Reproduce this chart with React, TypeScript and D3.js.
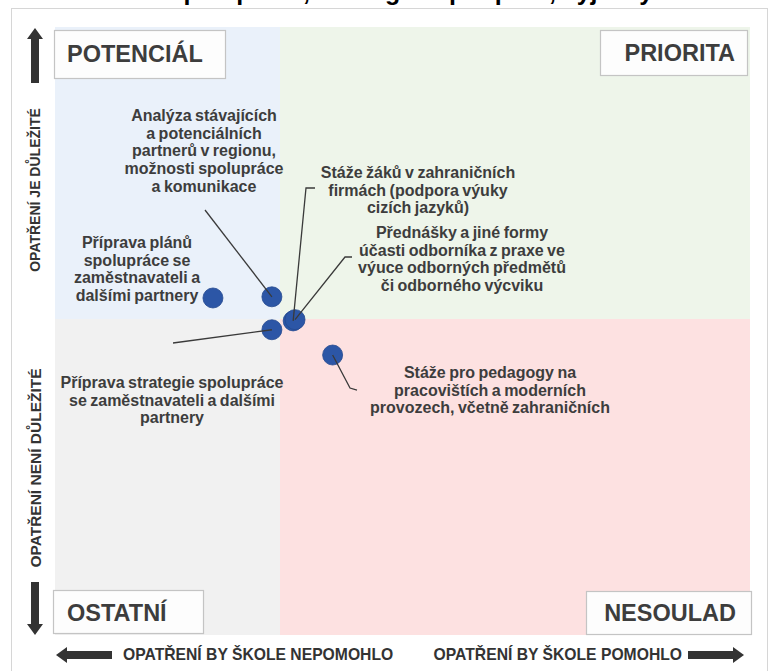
import React from 'react';
import * as d3 from 'd3';

const W = 777;
const H = 671;

// title is cut off at the top of the picture, only the descenders are visible
const title = 'Spolupráce, strategie a podpora, výjezdy';

const quadrantNames = ['POTENCIÁL', 'PRIORITA', 'OSTATNÍ', 'NESOULAD'];
const yAxisLabels = ['OPATŘENÍ JE DŮLEŽITÉ', 'OPATŘENÍ NENÍ DŮLEŽITÉ'];
const xAxisLabels = ['OPATŘENÍ BY ŠKOLE NEPOMOHLO', 'OPATŘENÍ BY ŠKOLE POMOHLO'];

// measures: x = would help the school, y = importance (50 = quadrant split)
const measureLines = [
    ['Příprava plánů', 'spolupráce se', 'zaměstnavateli a', 'dalšími partnery'],
    ['Analýza stávajících', 'a potenciálních', 'partnerů v regionu,', 'možnosti spolupráce', 'a komunikace'],
    ['Stáže žáků v zahraničních', 'firmách (podpora výuky', 'cizích jazyků)'],
    ['Přednášky a jiné formy', 'účasti odborníka z praxe ve', 'výuce odborných předmětů', 'či odborného výcviku'],
    ['Příprava strategie spolupráce', 'se zaměstnavateli a dalšími', 'partnery'],
    ['Stáže pro pedagogy na', 'pracovištích a moderních', 'provozech, včetně zahraničních'],
];
const helpScore = [35.1, 48.2, 51.4, 51.6, 48.2, 55.6];
const importanceScore = [53.6, 53.8, 49.7, 49.9, 48.3, 44.3];

// label placement (pixels), kept apart from the data
const labelLayout = [
    { cx: 137, cy: 242, leader: [] },
    { cx: 204, cy: 115, leader: [[205, 210]] },
    { cx: 418, cy: 172, leader: [[306, 188], [315, 188]] },
    { cx: 462, cy: 232, leader: [[345, 257], [352, 257]] },
    { cx: 172, cy: 382, leader: [[173, 343]] },
    { cx: 490, cy: 372, leader: [[350, 388], [357, 390]] },
];

const FONT = '"Liberation Sans", Arial, sans-serif';
const TEXT = '#3d3d3d';

export default function App() {
    const left = 55, right = 750, top = 27, bottom = 635;
    const x = d3.scaleLinear().domain([0, 50, 100]).range([left, 280, right]);
    const y = d3.scaleLinear().domain([0, 50, 100]).range([bottom, 319, top]);

    const quads = [
        { x0: left, x1: x(50), y0: top, y1: y(50), fill: '#eaf1fa' },
        { x0: x(50), x1: right, y0: top, y1: y(50), fill: '#eef5ea' },
        { x0: left, x1: x(50), y0: y(50), y1: bottom, fill: '#f1f1f1' },
        { x0: x(50), x1: right, y0: y(50), y1: bottom, fill: '#fde1e1' },
    ];

    const boxes = [
        { x: 54, y: 30, w: 171, h: 48, anchor: 'start', tx: 67, ty: 62 },
        { x: 600, y: 30, w: 147, h: 45, anchor: 'end', tx: 735, ty: 61 },
        { x: 53, y: 590, w: 150, h: 43, anchor: 'start', tx: 67, ty: 621 },
        { x: 586, y: 591, w: 165, h: 43, anchor: 'end', tx: 736, ty: 621 },
    ];

    const line = d3.line();
    const lineH = 17.7;

    // arrow: shaft + head pointing along direction
    const arrow = (x1: number, y1: number, x2: number, y2: number) => {
        const len = Math.hypot(x2 - x1, y2 - y1);
        const ux = (x2 - x1) / len, uy = (y2 - y1) / len;
        const px = -uy, py = ux;
        const sw = 4, hw = 8, hl = 11;
        const bx = x2 - ux * hl, by = y2 - uy * hl;
        const pts: [number, number][] = [
            [x1 + px * sw, y1 + py * sw],
            [bx + px * sw, by + py * sw],
            [bx + px * hw, by + py * hw],
            [x2, y2],
            [bx - px * hw, by - py * hw],
            [bx - px * sw, by - py * sw],
            [x1 - px * sw, y1 - py * sw],
        ];
        return line(pts) + 'Z';
    };

    return (
        <svg width={W} height={H} style={{ position: 'absolute', left: 0, top: 0 }} fontFamily={FONT}>
            <rect width={W} height={H} fill="#fff" />
            <text x={410} y={-0.5} textAnchor="middle" fontSize={25} fontWeight="bold" fill="#000">{title}</text>
            <rect x={11.5} y={8.5} width={756} height={700} fill="#fff" stroke="#d6d6d6" />

            {quads.map((q, i) => (
                <rect key={i} x={q.x0} y={q.y0} width={q.x1 - q.x0} height={q.y1 - q.y0} fill={q.fill} />
            ))}

            {boxes.map((b, i) => (
                <g key={i}>
                    <rect x={b.x + 0.5} y={b.y + 0.5} width={b.w} height={b.h} fill="#fdfdfd" stroke="#c4c4c4" strokeWidth={1.2} />
                    <text x={b.tx} y={b.ty} textAnchor={b.anchor} fontSize={23.5} fontWeight="bold" fill={TEXT}>{quadrantNames[i]}</text>
                </g>
            ))}

            <path d={arrow(35, 83, 35, 28)} fill="#333" />
            <path d={arrow(35, 582, 35, 635)} fill="#333" />
            <path d={arrow(112, 655, 56, 655)} fill="#333" />
            <path d={arrow(688, 655, 744, 655)} fill="#333" />

            <text transform={`translate(40,${190}) rotate(-90)`} textAnchor="middle" fontSize={14} fontWeight="bold" fill="#333">{yAxisLabels[0]}</text>
            <text transform={`translate(40.5,${468}) rotate(-90)`} textAnchor="middle" fontSize={15.5} fontWeight="bold" fill="#333">{yAxisLabels[1]}</text>
            <text x={123} y={660} fontSize={15.7} fontWeight="bold" fill="#333">{xAxisLabels[0]}</text>
            <text x={682} y={660} textAnchor="end" fontSize={15.7} fontWeight="bold" fill="#333">{xAxisLabels[1]}</text>

            {measureLines.map((lines, i) => (
                <text key={i} textAnchor="middle" fontSize={16} fontWeight="bold" fill={TEXT} wordSpacing={-1}>
                    {lines.map((s, j) => (
                        <tspan key={j} x={labelLayout[i].cx} y={labelLayout[i].cy + 6 + j * lineH}>{s}</tspan>
                    ))}
                </text>
            ))}

            {helpScore.map((v, i) => (
                <circle key={i} cx={x(v)} cy={y(importanceScore[i])} r={10} fill="#2c56a6" stroke="#24498f" strokeWidth={0.8} />
            ))}

            {labelLayout.map((l, i) => l.leader.length ? (
                <path key={i}
                    d={line([[x(helpScore[i]), y(importanceScore[i])], ...(l.leader as [number, number][])]) || ''}
                    fill="none" stroke="#3a3a3a" strokeWidth={1.3} />
            ) : null)}
        </svg>
    );
}
